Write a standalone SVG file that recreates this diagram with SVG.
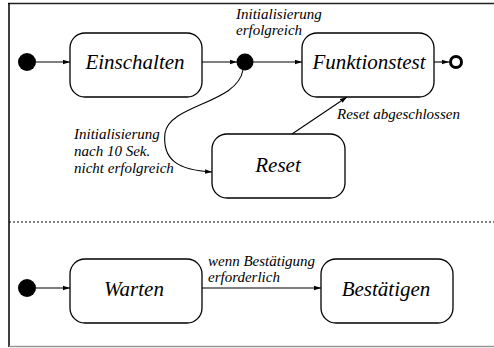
<svg xmlns="http://www.w3.org/2000/svg" width="494" height="348" viewBox="0 0 494 348">
<style>
.st{fill:#fff;stroke:#000;stroke-width:1.3}
.dot{fill:#000}
.t{font-family:"Liberation Serif","Times New Roman",serif;font-style:italic;font-size:21px;text-anchor:middle;fill:#000}
.l{font-family:"Liberation Serif","Times New Roman",serif;font-style:italic;font-size:15px;fill:#000}
.c{fill:none;stroke:#000;stroke-width:1.1;marker-end:url(#ah)}
</style>
<defs>
<marker id="ah" markerWidth="7" markerHeight="6" refX="7" refY="3" orient="auto" markerUnits="userSpaceOnUse">
<path d="M0,0.7 L7,3 L0,5.3 Z" fill="#000"/>
</marker>
</defs>
<rect width="494" height="348" fill="#fff"/>
<g id="frame">
<line x1="8" y1="3.5" x2="494" y2="3.5" stroke="#222" stroke-width="1.5"/>
<line x1="9" y1="3" x2="9" y2="347" stroke="#000" stroke-width="1.5"/>
<line x1="9" y1="346.5" x2="494" y2="346.5" stroke="#999" stroke-width="1.5"/>
<line x1="9" y1="222" x2="494" y2="222" stroke="#000" stroke-width="1" stroke-dasharray="2,2"/>
</g>
<g id="connectors">
<line class="c" x1="36" y1="62" x2="70" y2="62"/>
<line class="c" x1="202" y1="62" x2="237" y2="62"/>
<line class="c" x1="253" y1="62" x2="302" y2="62"/>
<line class="c" x1="434" y1="62" x2="449" y2="62"/>
<path class="c" d="M 243 70 C 237 104, 170 104, 165 133 C 162 160, 178 170, 212 172"/>
<line class="c" x1="292" y1="134" x2="347" y2="97"/>
<line class="c" x1="36" y1="288" x2="70" y2="288"/>
<line class="c" x1="202" y1="288" x2="321" y2="288"/>
<text class="l" x="236" y="19">Initialisierung</text>
<text class="l" x="236" y="35">erfolgreich</text>
<text class="l" x="74" y="139">Initialisierung</text>
<text class="l" x="74" y="156">nach 10 Sek.</text>
<text class="l" x="74" y="173">nicht erfolgreich</text>
<text class="l" x="337" y="119">Reset abgeschlossen</text>
<text class="l" x="208" y="266">wenn Bestätigung</text>
<text class="l" x="208" y="282">erforderlich</text>
</g>
<g id="start1"><circle class="dot" cx="27" cy="62" r="9"/></g>
<g id="einschalten"><rect class="st" x="70" y="33" width="132" height="64" rx="15"/><text class="t" x="135" y="69">Einschalten</text></g>
<g id="junction"><circle class="dot" cx="245" cy="62" r="8.5"/></g>
<g id="funktionstest"><rect class="st" x="302" y="33" width="132" height="64" rx="15"/><text class="t" x="369" y="69">Funktionstest</text></g>
<g id="end"><circle cx="456" cy="62" r="5.5" fill="#fff" stroke="#000" stroke-width="3"/></g>
<g id="reset"><rect class="st" x="212" y="134" width="133" height="64" rx="15"/><text class="t" x="278" y="172">Reset</text></g>
<g id="start2"><circle class="dot" cx="27" cy="288" r="9"/></g>
<g id="warten"><rect class="st" x="70" y="259" width="132" height="64" rx="15"/><text class="t" x="134" y="296">Warten</text></g>
<g id="bestaetigen"><rect class="st" x="321" y="259" width="132" height="64" rx="15"/><text class="t" x="386" y="296">Bestätigen</text></g>
</svg>
